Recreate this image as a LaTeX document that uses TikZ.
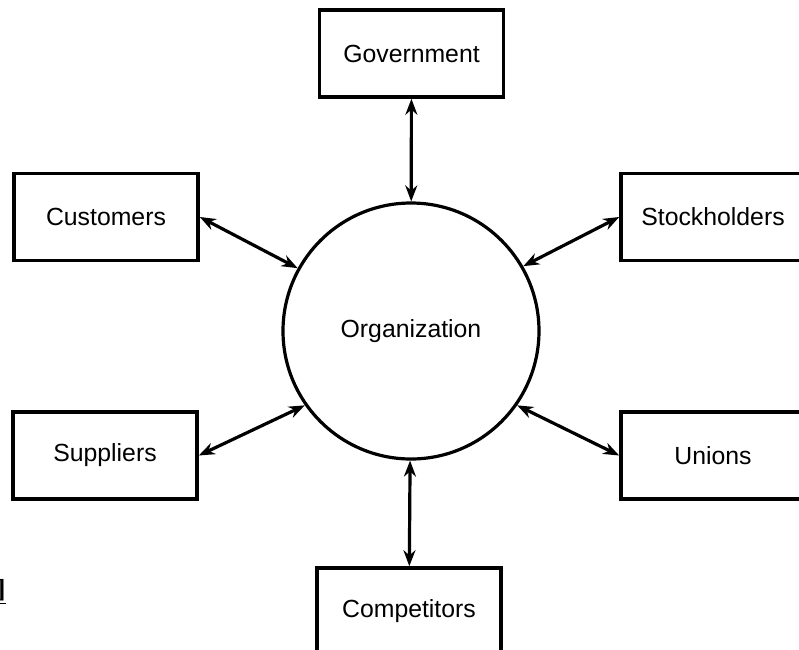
\documentclass[tikz,border=0pt]{standalone}
\usepackage{fontspec}
\setmainfont{Liberation Sans}
\newfontfamily\markfont{Liberation Serif}
\usetikzlibrary{arrows.meta}

\begin{document}
\begin{tikzpicture}[x=0.5pt, y=-0.5pt,
    party/.style={draw, line width=1.8pt, minimum width=92pt, minimum height=43.5pt,
        font=\fontsize{12.4}{15}\selectfont},
    link/.style={{Stealth[length=8pt,width=6pt]}-{Stealth[length=8pt,width=6pt]}, line width=1.6pt}]
    \useasboundingbox (0,0) rectangle (799,649);
    % the organization in the middle
    \node[draw, circle, line width=1.6pt, minimum size=128pt, inner sep=0pt,
        font=\fontsize{12.4}{15}\selectfont] (org) at (411,331) {Organization};
    % the parties round it
    \node[party] (gov) at (411.5,53.5) {Government};
    \node[party] (cust) at (106,217) {Customers};
    \node[party] (stock) at (713,217) {Stockholders};
    \node[party] (supp) at (105,455.5) {Suppliers};
    \node[party] (unions) at (713,455.5) {Unions};
    \node[party] (comp) at (409,611.5) {Competitors};
    % stray mark at the left edge
    \node[anchor=east, inner sep=0pt, font=\markfont\bfseries\fontsize{13}{15}\selectfont]
        (mark) at (6,592) {\underline{]}};
    % links
    \draw[link] (gov) -- (org);
    \draw[link] (cust.east) -- (org.151);
    \draw[link] (stock.west) -- (org.30);
    \draw[link] (supp.east) -- (org.215);
    \draw[link] (unions.west) -- (org.325);
    \draw[link] (comp) -- (org);
\end{tikzpicture}
\end{document}
